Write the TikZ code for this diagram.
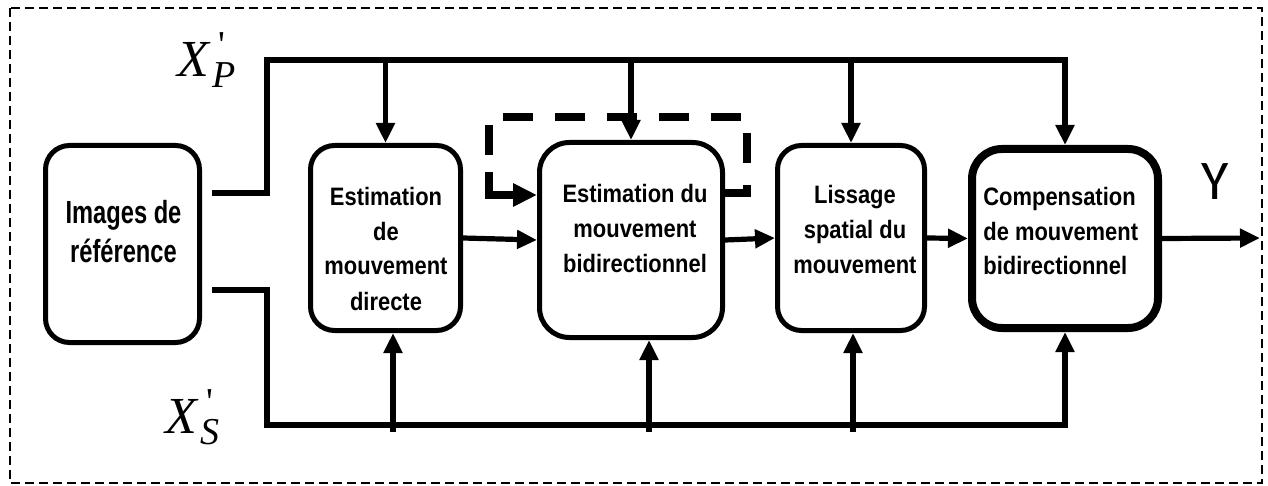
\documentclass[tikz,border=0pt]{standalone}
\usepackage{fontspec}
\setmainfont{Liberation Sans}
\newfontfamily\boxfont[FakeStretch=0.87]{Liberation Sans}
\newfontfamily\reffont[FakeStretch=0.74]{Liberation Sans}
\newfontfamily\varfont{Liberation Serif}
\newfontfamily\outfont{Carlito}
\usetikzlibrary{arrows.meta}

% primed variable with an italic subscript: X'_#1
\newcommand\primedvar[1]{%
  {\varfont\itshape\fontsize{26}{26}\selectfont X\kern1.5pt%
   \rlap{\raisebox{-5.5pt}{\fontsize{19}{19}\selectfont #1}}%
   \kern3pt\raisebox{9.5pt}{\fontsize{19}{19}\selectfont\upshape\char"27}}}

\begin{document}
\begin{tikzpicture}[x=0.5pt,y=-0.5pt,
  blk/.style={draw, line width=2.5pt, rounded corners=12pt, inner sep=0pt},
  txt/.style={font=\boxfont\bfseries\fontsize{12.6}{17.5}\selectfont,
              align=center, anchor=base, inner sep=0pt},
  wire/.style={line width=2.6pt, line join=miter},
  feed/.style={wire, -{Triangle[length=10pt,width=9pt]}},
  loopback/.style={line width=4pt, dash pattern=on 15pt off 11pt},
  loopend/.style={line width=4pt, -{Triangle[length=12pt,width=11pt]}},
  frame/.style={line width=1pt, dash pattern=on 4.5pt off 2.5pt}]
\useasboundingbox (0,0) rectangle (1268,486);

% outer dashed frame
\draw[frame] (10,8) rectangle (1262,483);

% processing blocks
\node[blk, minimum width=77pt, minimum height=98.5pt] (ref) at (122.5,244) {};
\node[blk, minimum width=75pt, minimum height=92.5pt] (dir) at (385.5,238) {};
\node[blk, rounded corners=15pt, minimum width=91.5pt, minimum height=97.5pt] (bid) at (631,240) {};
\node[blk, minimum width=73.5pt, minimum height=92.5pt] (lis) at (851,238) {};
\node[blk, line width=4pt, rounded corners=15pt, minimum width=93pt, minimum height=89.5pt] (cmp) at (1065,238.5) {};

% block captions (anchored on the baseline of the last line)
\node[txt, font=\reffont\bfseries\fontsize{16}{19.5}\selectfont] (reft) at (123.5,263) {Images de\\référence};
\node[txt] (dirt) at (386,310) {Estimation\\de\\mouvement\\directe};
\node[txt] (bidt) at (635,272) {Estimation du\\mouvement\\bidirectionnel};
\node[txt] (list) at (855,273) {Lissage\\spatial du\\mouvement};
\node[txt, align=left, anchor=base west] (cmpt) at (983,275) {Compensation\\de mouvement\\bidirectionnel};

% signal labels
\node[anchor=base west, inner sep=0pt] (xp) at (177,77) {\primedvar{P}};
\node[anchor=base west, inner sep=0pt] (xs) at (165,433) {\primedvar{S}};
\node[anchor=base, inner sep=0pt, font=\outfont\fontsize{28}{28}\selectfont] (yl) at (1215,200) {Y};

% routing points
\coordinate (pstart) at (212,193);
\coordinate (ptop)   at (267,60);
\coordinate (sstart) at (212,290);
\coordinate (sbot)   at (267,425);
\coordinate (b1) at (393,432);
\coordinate (b2) at (649,432);
\coordinate (b3) at (853,432);
\coordinate (yout) at (1260,238);
\coordinate (l1) at (747,117);
\coordinate (l2) at (489,117);
\coordinate (l3) at (489,172);

% X'_P distribution bus
\draw[feed] (pstart) -| (ptop) -| (cmp);
\draw[feed] (dir.north |- ptop) -- (dir.north);
\draw[feed] (bid.north |- ptop) -- (bid.north);
\draw[feed] (lis.north |- ptop) -- (lis.north);

% X'_S distribution bus
\draw[feed] (sstart) -| (sbot) -| (cmp);
\draw[feed] (b1) -- (b1 |- dir.south);
\draw[feed] (b2) -- (b2 |- bid.south);
\draw[feed] (b3) -- (b3 |- lis.south);

% main chain
\draw[feed] (dir.east) -- (bid.west);
\draw[feed] (bid.east) -- (lis.west);
\draw[feed] (lis.east) -- (cmp.west);
\draw[feed] (cmp.east) -- (yout);

% iterative refinement loop
\draw[loopback] (bid.east |- 0,193) -| (l1) -- (l2) -- (l3);
\draw[loopend] (l3) |- (bid.west |- 0,195);
\end{tikzpicture}
\end{document}
